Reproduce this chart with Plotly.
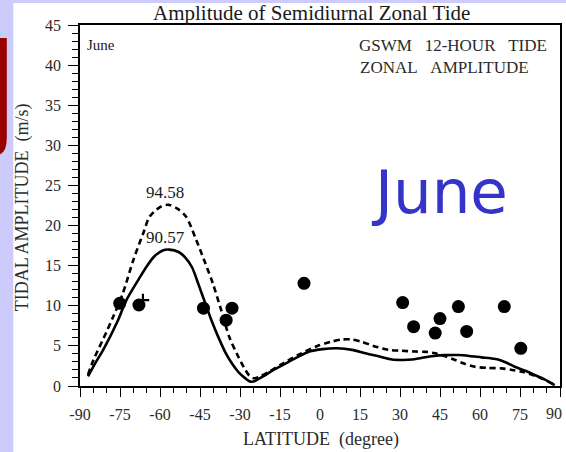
import plotly.graph_objects as go

# Model curves: semidiurnal zonal tide amplitude (m/s) vs latitude (deg)
solid_lat = [-87, -84, -81.3, -76, -72.6, -68, -65, -62, -59, -56.5, -53, -50.5, -48,
             -45.5, -43, -40.5, -38, -35.5, -33, -30.5, -28, -26.5, -25, -23.5, -21,
             -18, -14, -9, -4, 1, 6.5, 12, 17, 22, 27, 31, 34.5, 38, 42.6, 47, 52,
             56, 60.6, 64, 66.8, 70, 73, 77, 80.5, 84, 88]
solid_amp = [1.2, 3.0, 4.5, 8.0, 10.7, 13.3, 14.9, 16.2, 16.9, 17.0, 16.7, 16.0, 14.8,
             12.6, 10.3, 8.0, 6.0, 4.2, 2.8, 1.7, 0.95, 0.6, 0.55, 0.8, 1.25,
             1.9, 2.6, 3.5, 4.3, 4.6, 4.7, 4.5, 4.07, 3.7, 3.3, 3.25, 3.3, 3.5, 3.74,
             3.85, 3.86, 3.75, 3.57, 3.45, 3.3, 2.9, 2.4, 1.9, 1.37, 0.85, 0.1]

dash_lat = [-87, -85, -80, -77.6, -74, -70, -66, -63.9, -60, -57, -53.5, -50.2, -46.4,
            -43, -40.2, -37, -34, -31, -28.5, -26.5, -24.7, -22.5, -19, -14, -8,
            -1.6, 4, 8.3, 12, 15.8, 20, 25.8, 30, 35.7, 40, 43.2, 47, 50.7, 54, 58.1,
            63, 68.1, 72, 75.6, 80, 83, 87.4]
dash_amp = [1.4, 3.2, 6.8, 8.6, 11.5, 15.7, 19.3, 21.1, 22.3, 22.6, 22.1, 21.1, 18.2,
            15.3, 12.8, 9.4, 6.1, 3.9, 2.3, 1.3, 0.96, 1.2, 1.8, 2.8, 3.9,
            4.9, 5.5, 5.8, 5.8, 5.5, 5.0, 4.5, 4.4, 4.3, 4.25, 4.07, 3.7, 3.24, 2.8,
            2.4, 2.25, 2.2, 2.0, 1.78, 1.35, 0.96, 0.25]

# Observed amplitudes
obs_lat = [-75.1, -67.9, -43.7, -35.2, -33.0, -6.0, 31.0, 35.1, 43.2, 45.0, 51.9, 55.0, 69.1, 75.3]
obs_amp = [10.3, 10.1, 9.7, 8.2, 9.7, 12.8, 10.4, 7.4, 6.6, 8.4, 9.9, 6.8, 9.9, 4.7]
plus_lat = [-66.4]
plus_amp = [10.7]

peak_labels = ["94.58", "90.57"]
xticks = list(range(-90, 91, 15))
xticktext = [str(v) if v < 90 else "" for v in xticks]   # plain hyphen minus
yticks = list(range(0, 46, 5))

W, H = 566, 452
L, R, T, B = 80, 562, 25, 386  # plot area in pixels


def px(x):
    return (x - L) / (R - L)


def py(y):
    return (B - y) / (B - T)


serif = "Liberation Serif"
ink = "#1a1a1a"
grey = "#2a2a2a"
nb = "\u00a0"

fig = go.Figure()
fig.add_trace(go.Scatter(x=dash_lat, y=dash_amp, mode="lines",
                         line=dict(color="black", width=2.6, dash="6px,4px",
                                   shape="spline", smoothing=0.8),
                         hoverinfo="skip", showlegend=False))
fig.add_trace(go.Scatter(x=solid_lat, y=solid_amp, mode="lines",
                         line=dict(color="black", width=2.6, shape="spline", smoothing=0.8),
                         hoverinfo="skip", showlegend=False))
fig.add_trace(go.Scatter(x=obs_lat, y=obs_amp, mode="markers",
                         marker=dict(symbol="circle", size=13, color="black"),
                         showlegend=False))
fig.add_trace(go.Scatter(x=plus_lat, y=plus_amp, mode="markers",
                         marker=dict(symbol="cross-thin", size=9,
                                     line=dict(color="black", width=2.2)),
                         showlegend=False))

axis_common = dict(showline=True, linecolor="black", linewidth=1.5, mirror=True,
                   showgrid=False, zeroline=False, ticks="outside", tickcolor="black",
                   tickwidth=1.3, tickfont=dict(family=serif, size=16, color=grey))

fig.update_xaxes(range=[-90, 90], tickvals=xticks, ticktext=xticktext, ticklen=9,
                 minor=dict(dtick=5, tick0=0, ticks="outside", ticklen=5,
                            tickcolor="black", tickwidth=1.2),
                 ticklabelstandoff=4, **axis_common)
fig.update_yaxes(range=[0, 45], tickvals=yticks, ticklen=10,
                 minor=dict(dtick=1, tick0=0, ticks="outside", ticklen=6,
                            tickcolor="black", tickwidth=1.2),
                 ticklabelstandoff=4, **axis_common)

shapes = [
    # white panel
    dict(type="rect", xref="paper", yref="paper", x0=px(13), x1=px(W + 5),
         y0=py(H + 5), y1=py(3), fillcolor="white", line=dict(width=0), layer="below"),
    # red stroke at the left edge
    dict(type="path", xref="paper", yref="paper",
         path=(f"M {px(-2)},{py(38)} L {px(6.5)},{py(38)} L {px(6.5)},{py(138)} "
               f"Q {px(6.5)},{py(153)} {px(-2)},{py(155)} Z"),
         fillcolor="#990000", line=dict(width=0), layer="below"),
    dict(type="rect", xref="paper", yref="paper", x0=px(-2), x1=px(2),
         y0=py(36), y1=py(31), fillcolor="#a8d8f0", line=dict(width=0), layer="below"),
]

ann = [
    dict(text="Amplitude of Semidiurnal Zonal Tide", x=px(312), y=py(13),
         font=dict(family=serif, size=21, color=ink)),
    dict(text=f"TIDAL AMPLITUDE{nb}{nb}(m/s)", x=px(22), y=py(207), textangle=-90,
         font=dict(family=serif, size=18, color=grey)),
    dict(text=f"LATITUDE{nb}{nb}(degree)", x=px(322), y=py(440),
         font=dict(family=serif, size=18, color=grey)),
    # last x tick label, kept inside the page edge
    dict(text="90", x=px(566), y=py(413), xanchor="right",
         font=dict(family=serif, size=16, color=grey)),
    dict(text="June", x=px(85), y=py(45), xanchor="left",
         font=dict(family=serif, size=15, color=ink)),
    dict(text=f"GSWM{nb}{nb}{nb}12-HOUR{nb}{nb}{nb}TIDE", x=px(551), y=py(45),
         xanchor="right", font=dict(family=serif, size=17, color=grey)),
    dict(text=f"ZONAL{nb}{nb}{nb}AMPLITUDE", x=px(359), y=py(67), xanchor="left",
         font=dict(family=serif, size=17, color=grey)),
    dict(text=peak_labels[0], x=px(165), y=py(192),
         font=dict(family=serif, size=17, color=ink)),
    dict(text=peak_labels[1], x=px(166), y=py(238),
         font=dict(family=serif, size=17, color=ink)),
    dict(text="June", x=px(441), y=py(191),
         font=dict(family="DejaVu Sans", size=61, color="#3434c8")),
]
for a in ann:
    a.update(xref="paper", yref="paper", showarrow=False)
    a.setdefault("xanchor", "center")
    a.setdefault("yanchor", "middle")

fig.update_layout(width=W, height=H, margin=dict(l=L, r=W - R, t=T, b=H - B),
                  paper_bgcolor="#cccbfb", plot_bgcolor="white",
                  shapes=shapes, annotations=ann, showlegend=False)

fig.write_html("out.html")
